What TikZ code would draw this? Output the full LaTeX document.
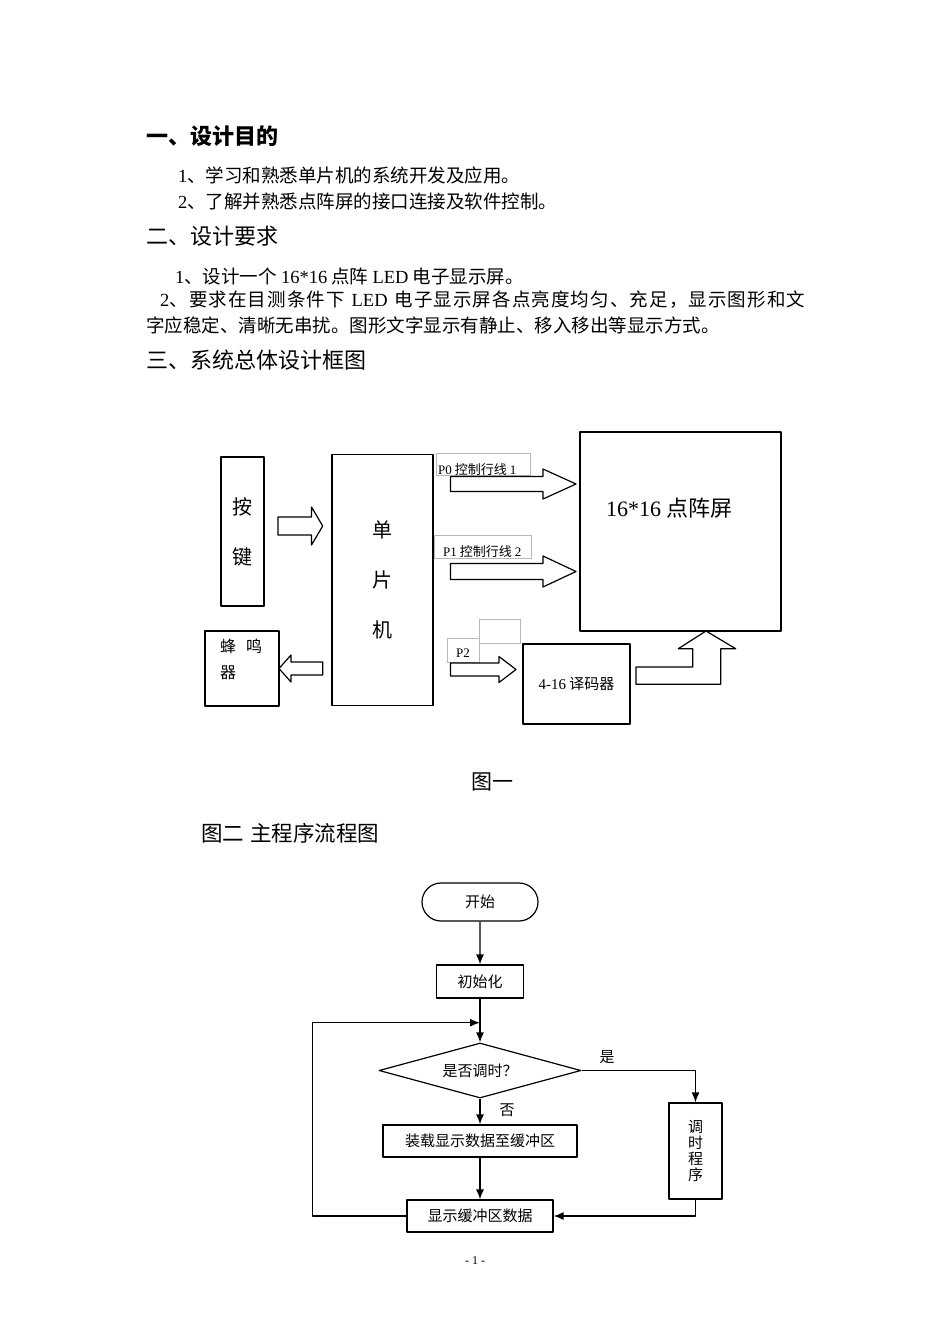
\documentclass[tikz,border=0pt]{standalone}
\usepackage{fontspec}
\setmainfont{Noto Sans CJK SC}
\newfontfamily\lat{Liberation Serif}
\usetikzlibrary{arrows.meta,shapes.geometric,shapes.misc}

\begin{document}
\begin{tikzpicture}[x=1pt,y=-1pt,line join=round,>={Latex[length=10pt,width=8pt]}]
	\tikzset{every node/.style={inner sep=0pt},
		txt/.style={anchor=west,font=\fontsize{18.5}{22}\selectfont},
		head/.style={anchor=west,font=\fontsize{22}{26}\selectfont},
		lbl/.style={anchor=west,font=\fontsize{13}{15}\selectfont},
		box/.style 2 args={draw,line width=1.2pt,minimum width=#1,minimum height=#2},
		fbox/.style 2 args={draw,line width=1.2pt,minimum width=#1,minimum height=#2,font=\fontsize{15}{18}\selectfont},
		gbox/.style={draw=gray!55,line width=0.6pt},
		flow/.style={line width=1.3pt}}
	\fill[white] (0,0) rectangle (950,1344);
	\useasboundingbox (0,0) rectangle (950,1344);
	% page text
	\node[head] (h1) at (146,136) {\bfseries 一、设计目的};
	\node[txt] (p1) at (178,175) {{\lat 1}、学习和熟悉单片机的系统开发及应用。};
	\node[txt] (p2) at (178,201) {{\lat 2}、了解并熟悉点阵屏的接口连接及软件控制。};
	\node[head] (h2) at (146,236) {二、设计要求};
	\node[txt] (p3) at (175,276) {{\lat 1}、设计一个 {\lat 16*16} 点阵 {\lat LED} 电子显示屏。};
	\node[txt] (p4) at (160,300) {\hbox to 645pt{\addfontfeatures{LetterSpace=6}{\lat 2}、要求在目测条件下 {\lat LED} 电子显示屏各点亮度均匀、充足，显示图形和文}};
	\node[txt] (p5) at (146,325) {字应稳定、清晰无串扰。图形文字显示有静止、移入移出等显示方式。};
	\node[head] (h3) at (146,360) {三、系统总体设计框图};
	% figure 1
	\node[box={43pt}{149pt},align=center,font=\fontsize{20}{50}\selectfont] (key) at (242.5,531.5) {按\\键};
	\node[box={101pt}{251pt},align=center,font=\fontsize{20}{50}\selectfont] (mcu) at (382.5,580) {单\\片\\机};
	\node[box={201pt}{199pt}] (led) at (680.5,531.5) {};
	\node[anchor=west,font=\fontsize{22}{26}\selectfont] (ledtxt) at (606,508) {{\lat 16*16} 点阵屏};
	\node[box={74pt}{75pt}] (buz) at (242,668.5) {};
	\node[anchor=north west,align=left,font=\fontsize{16}{26}\selectfont] (buztxt) at (220,639) {蜂\hspace{10pt}鸣\\器};
	\node[box={107pt}{80pt},font=\fontsize{15}{18}\selectfont] (dec) at (576.5,684) {{\lat 4-16} 译码器};
	\draw[gbox] (436,453) rectangle (530,475);
	\draw[gbox] (434,535) rectangle (531,558);
	\draw[gbox] (479,619) rectangle (520,643);
	\draw[gbox] (447,638) rectangle (479,662);
	\node[lbl] (lp0) at (438,470) {{\lat P0} 控制行线 {\lat 1}};
	\node[lbl] (lp1) at (443,552) {{\lat P1} 控制行线 {\lat 2}};
	\node[lbl] (lp2) at (456,653) {\lat P2};
	\foreach \yc/\hb/\hh/\xt/\xb/\xp in {484/7.5/15/450.4/543/576, 571.5/8/15.5/450.4/543/576,
		669.5/6.5/13/450.4/499/516, 526/9/19/278/311.5/322.7, 668.5/6.5/13.5/322.7/291/279}
		\draw[line width=1.2pt] (\xt,\yc-\hb) -- (\xb,\yc-\hb) -- (\xb,\yc-\hh) -- (\xp,\yc)
			-- (\xb,\yc+\hh) -- (\xb,\yc+\hb) -- (\xt,\yc+\hb) -- cycle;
	\draw[line width=1.2pt] (636,667) -- (692.7,667) -- (692.7,648.7) -- (678.3,648.7) -- (706,631)
		-- (735.7,648.7) -- (720.7,648.7) -- (720.7,684.3) -- (636,684.3) -- cycle;
	\node[anchor=west,font=\fontsize{21}{25}\selectfont] (cap1) at (471,782) {图一};
	\node[anchor=west,font=\fontsize{21.5}{25}\selectfont] (cap2) at (201,833) {图二\hspace{6pt}主程序流程图};
	% figure 2
	\node[draw,rounded rectangle,line width=1.2pt,minimum width=116pt,minimum height=38pt,
		font=\fontsize{15}{18}\selectfont] (start) at (480,902) {开始};
	\node[fbox={87pt}{33pt}] (init) at (480,981.5) {初始化};
	\node[draw,diamond,aspect=3.67,line width=1.2pt,minimum width=202pt,minimum height=55pt,
		font=\fontsize{15}{18}\selectfont] (ask) at (480,1070.5) {是否调时？};
	\node[fbox={194pt}{32pt}] (load) at (480,1141) {装载显示数据至缓冲区};
	\node[fbox={146pt}{32pt}] (show) at (480,1216) {显示缓冲区数据};
	\node[fbox={53pt}{96pt},align=center,font=\fontsize{15}{16.3}\selectfont] (adj) at (695.5,1151) {调\\时\\程\\序};
	\coordinate (loopL) at (312.7,1216);
	\coordinate (loopT) at (480,1022.7);
	\draw[flow,->] (start) -- (init);
	\draw[flow,->] (init) -- (ask);
	\draw[flow,->] (show.west) -- (loopL) |- (loopT);
	\draw[flow,->] (ask.east) -| (adj.north);
	\draw[flow,->] (ask.south) -- (load.north);
	\draw[flow,->] (load) -- (show);
	\draw[flow,->] (adj.south) |- (show.east);
	\node[font=\fontsize{15}{18}\selectfont] (yes) at (607,1057) {是};
	\node[font=\fontsize{15}{18}\selectfont] (no) at (507,1110) {否};
	\node[font=\fontsize{12}{14}\selectfont\lat] (pg) at (475,1261) {- 1 -};
\end{tikzpicture}
\end{document}
